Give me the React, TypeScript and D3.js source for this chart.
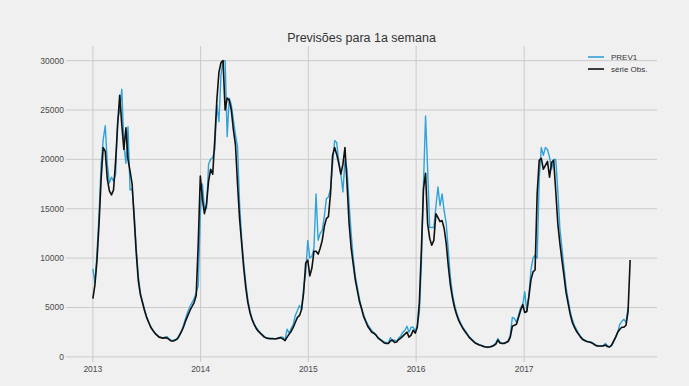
import * as d3 from 'd3';

// weekly observed series (série Obs.), one array per year
const obs2013 = [
  5900, 7300, 9800, 13500, 18000, 21200, 20800, 18000, 16800, 16400,
  16900, 19800, 23500, 26500, 23500, 21000, 23200, 20000, 18800, 17500,
  14000, 10500, 7700, 6300, 5500, 4700, 4000, 3500, 3000, 2700,
  2400, 2200, 2000, 1950, 1900, 1950, 1900, 1750, 1600, 1600,
  1700, 1850, 2200, 2600, 3100, 3700, 4200, 4700, 5100, 5500,
  6200, 11500,
];
const obs2014 = [
  18300, 16000, 14500, 15500, 17800, 19000, 18500, 22000, 26000, 28800,
  29800, 30000, 25000, 26200, 26000, 25000, 23000, 21500, 17500, 14000,
  11500, 9000, 7000, 5500, 4500, 3800, 3300, 2900, 2600, 2400,
  2200, 2000, 1900, 1850, 1850, 1850, 1800, 1850, 1900, 1950,
  1800, 1650, 2000, 2300, 2600, 3000, 3500, 4000, 4200, 4800,
  6500, 9500,
];
const obs2015 = [
  9800, 8200, 9000, 10700, 10700, 10400, 11000, 11800, 13200, 14000,
  14200, 16500, 20400, 21200, 20500, 19600, 18500, 19500, 21200, 17500,
  13500, 11000, 9400, 7800, 6700, 5600, 4900, 4100, 3600, 3100,
  2800, 2500, 2400, 2200, 1900, 1750, 1600, 1400, 1350, 1350,
  1600, 1700, 1450, 1500, 1750, 1900, 2100, 2300, 2500, 2000,
  2200, 2700,
];
const obs2016 = [
  2400, 3000, 5500, 11000, 17000, 18600, 13500, 12000, 11300, 11800,
  14500, 14100, 13700, 13800, 13000, 11500, 9200, 7300, 6000, 5000,
  4300, 3700, 3300, 2900, 2600, 2300, 2000, 1800, 1600, 1400,
  1300, 1200, 1150, 1050, 1000, 1000, 1000, 1050, 1150, 1300,
  1700, 1400, 1350, 1350, 1450, 1550, 2000, 3100, 3200, 3300,
  4000, 4700,
];
const obs2017 = [
  5300, 4500, 4600, 6100, 7800, 8600, 8800, 16500, 19900, 20100,
  19000, 19400, 19800, 18200, 19700, 19900, 16800, 13500, 11500, 9800,
  8200, 6500, 5400, 4300, 3500, 3000, 2600, 2300, 2000, 1750,
  1650, 1550, 1500, 1450, 1350, 1200, 1100, 1100, 1100, 1100,
  1200, 1050, 1000, 1200, 1600, 2000, 2500, 2800, 3000, 3000,
  3200, 4600, 9800,
];

// one-week-ahead forecast (PREV1)
const prev2013 = [
  8900, 7500, 10500, 14500, 19500, 22000, 23400, 19500, 17600, 18200,
  17800, 18500, 24000, 25000, 27100, 21500, 19600, 23300, 16900, 17000,
  14500, 11000, 8200, 6500, 5600, 4800, 4100, 3500, 3100, 2700,
  2400, 2200, 2050, 1950, 1900, 2000, 2050, 1800, 1650, 1700,
  1750, 1900, 2300, 2700, 3300, 4000, 4600, 5100, 5500, 5900,
  6500, 7200,
];
const prev2014 = [
  14500, 17500, 15000, 15000, 19500, 20000, 20200, 21000, 25500, 23800,
  28500, 30000, 30000, 22300, 26200, 25500, 24000, 22500, 21300, 15500,
  12000, 9500, 7500, 5800, 4700, 3900, 3400, 3000, 2700, 2450,
  2250, 2050, 1950, 1900, 1850, 1850, 1850, 1800, 1950, 2000,
  2000, 1700, 2800, 2400, 2900, 3300, 4200, 4700, 5200, 4800,
  7000, 8500,
];
const prev2015 = [
  11800, 10000, 10200, 11000, 16500, 11800, 12500, 12800, 14200, 16000,
  16200, 17000, 19500, 21900, 21700, 19800, 18500, 16700, 19900, 19000,
  15500, 12500, 10000, 8200, 7000, 5900, 5000, 4300, 3700, 3300,
  2950, 2650, 2450, 2250, 2000, 1800, 1650, 1500, 1450, 1400,
  1950, 1600, 1700, 1600, 1900, 2100, 2500, 2700, 3100, 2500,
  3000, 3000,
];
const prev2016 = [
  2600, 3200, 4500, 9500, 17500, 24400, 19000, 13100, 13100, 13100,
  15200, 17200, 15300, 16500, 14800, 13500, 10800, 8100, 6400, 5300,
  4500, 3900, 3400, 3000, 2700, 2400, 2100, 1850, 1650, 1450,
  1350, 1250, 1150, 1100, 1000, 950, 1000, 1100, 1200, 1400,
  1850, 1500, 1400, 1400, 1500, 1650, 2200, 4000, 3900, 3500,
  4200, 5000,
];
const prev2017 = [
  5200, 6600, 4600, 6200, 8800, 10000, 10300, 10000, 18000, 21200,
  20400, 21200, 21000, 20200, 19000, 20000, 20000, 16800, 13000, 11000,
  9000, 7000, 5800, 4600, 3800, 3200, 2800, 2400, 2100, 1850,
  1700, 1600, 1550, 1500, 1400, 1250, 1150, 1100, 1100, 1150,
  1350, 1150, 1000, 1100, 1500, 2000, 2500, 3300, 3600, 3800,
  3500, 5000,
];

const yearTicks = ['2013', '2014', '2015', '2016', '2017'];
const yTicks = [0, 5000, 10000, 15000, 20000, 25000, 30000];

const observed = [...obs2013, ...obs2014, ...obs2015, ...obs2016, ...obs2017];
const forecast = [...prev2013, ...prev2014, ...prev2015, ...prev2016, ...prev2017];

const width = 689;
const height = 386;
const font = '"Liberation Sans", Arial, sans-serif';

const start = new Date(2013, 0, 1);
const weekDate = (i: number) => d3.timeDay.offset(start, 7 * i);
const lastDate = weekDate(observed.length - 1);

const x = d3
  .scaleTime()
  .domain([d3.timeDay.offset(start, -91), d3.timeDay.offset(lastDate, 91)])
  .range([66, 657]);

const y = d3.scaleLinear().domain([-520, 31480]).range([362, 46]);

const line = d3
  .line<number>()
  .x((_, i) => x(weekDate(i)))
  .y(d => y(d));

export default function App() {
  const [x0, x1] = x.range();
  const [y0, y1] = y.range();

  return (
    <svg
      width={width}
      height={height}
      style={{ position: 'absolute', left: 0, top: 0, display: 'block' }}
      fontFamily={font}
    >
      <rect width={width} height={height} fill="#f0f0f0" />

      {/* grid */}
      {yTicks.map(t => (
        <line key={`h${t}`} x1={x0} x2={x1} y1={y(t)} y2={y(t)} stroke="#cbcbcb" strokeWidth={1} />
      ))}
      {yearTicks.map(yr => {
        const px = x(new Date(+yr, 0, 1));
        return <line key={`v${yr}`} x1={px} x2={px} y1={y1} y2={y0} stroke="#cbcbcb" strokeWidth={1} />;
      })}

      {/* tick labels */}
      {yTicks.map(t => (
        <text
          key={`yl${t}`}
          x={64}
          y={y(t)}
          textAnchor="end"
          dominantBaseline="central"
          fontSize={8.5}
          fill="#4a4a4a"
        >
          {t}
        </text>
      ))}
      {yearTicks.map(yr => (
        <text
          key={`xl${yr}`}
          x={x(new Date(+yr, 0, 1))}
          y={368.5}
          textAnchor="middle"
          dominantBaseline="central"
          fontSize={8.5}
          fill="#4a4a4a"
        >
          {yr}
        </text>
      ))}

      {/* series */}
      <path d={line(forecast) ?? ''} fill="none" stroke="#30a2da" strokeWidth={1.4} strokeLinejoin="round" />
      <path d={line(observed) ?? ''} fill="none" stroke="#111" strokeWidth={1.6} strokeLinejoin="round" />

      {/* title */}
      <text x={(x0 + x1) / 2} y={38} textAnchor="middle" dominantBaseline="central" fontSize={12.5} fill="#333">
        Previsões para 1a semana
      </text>

      {/* legend */}
      <g fontSize={8} fill="#333">
        <line x1={588} x2={604} y1={57} y2={57} stroke="#30a2da" strokeWidth={1.6} />
        <text x={611} y={57} dominantBaseline="central">PREV1</text>
        <line x1={588} x2={604} y1={69} y2={69} stroke="#111" strokeWidth={1.6} />
        <text x={611} y={69} dominantBaseline="central">série Obs.</text>
      </g>
    </svg>
  );
}
